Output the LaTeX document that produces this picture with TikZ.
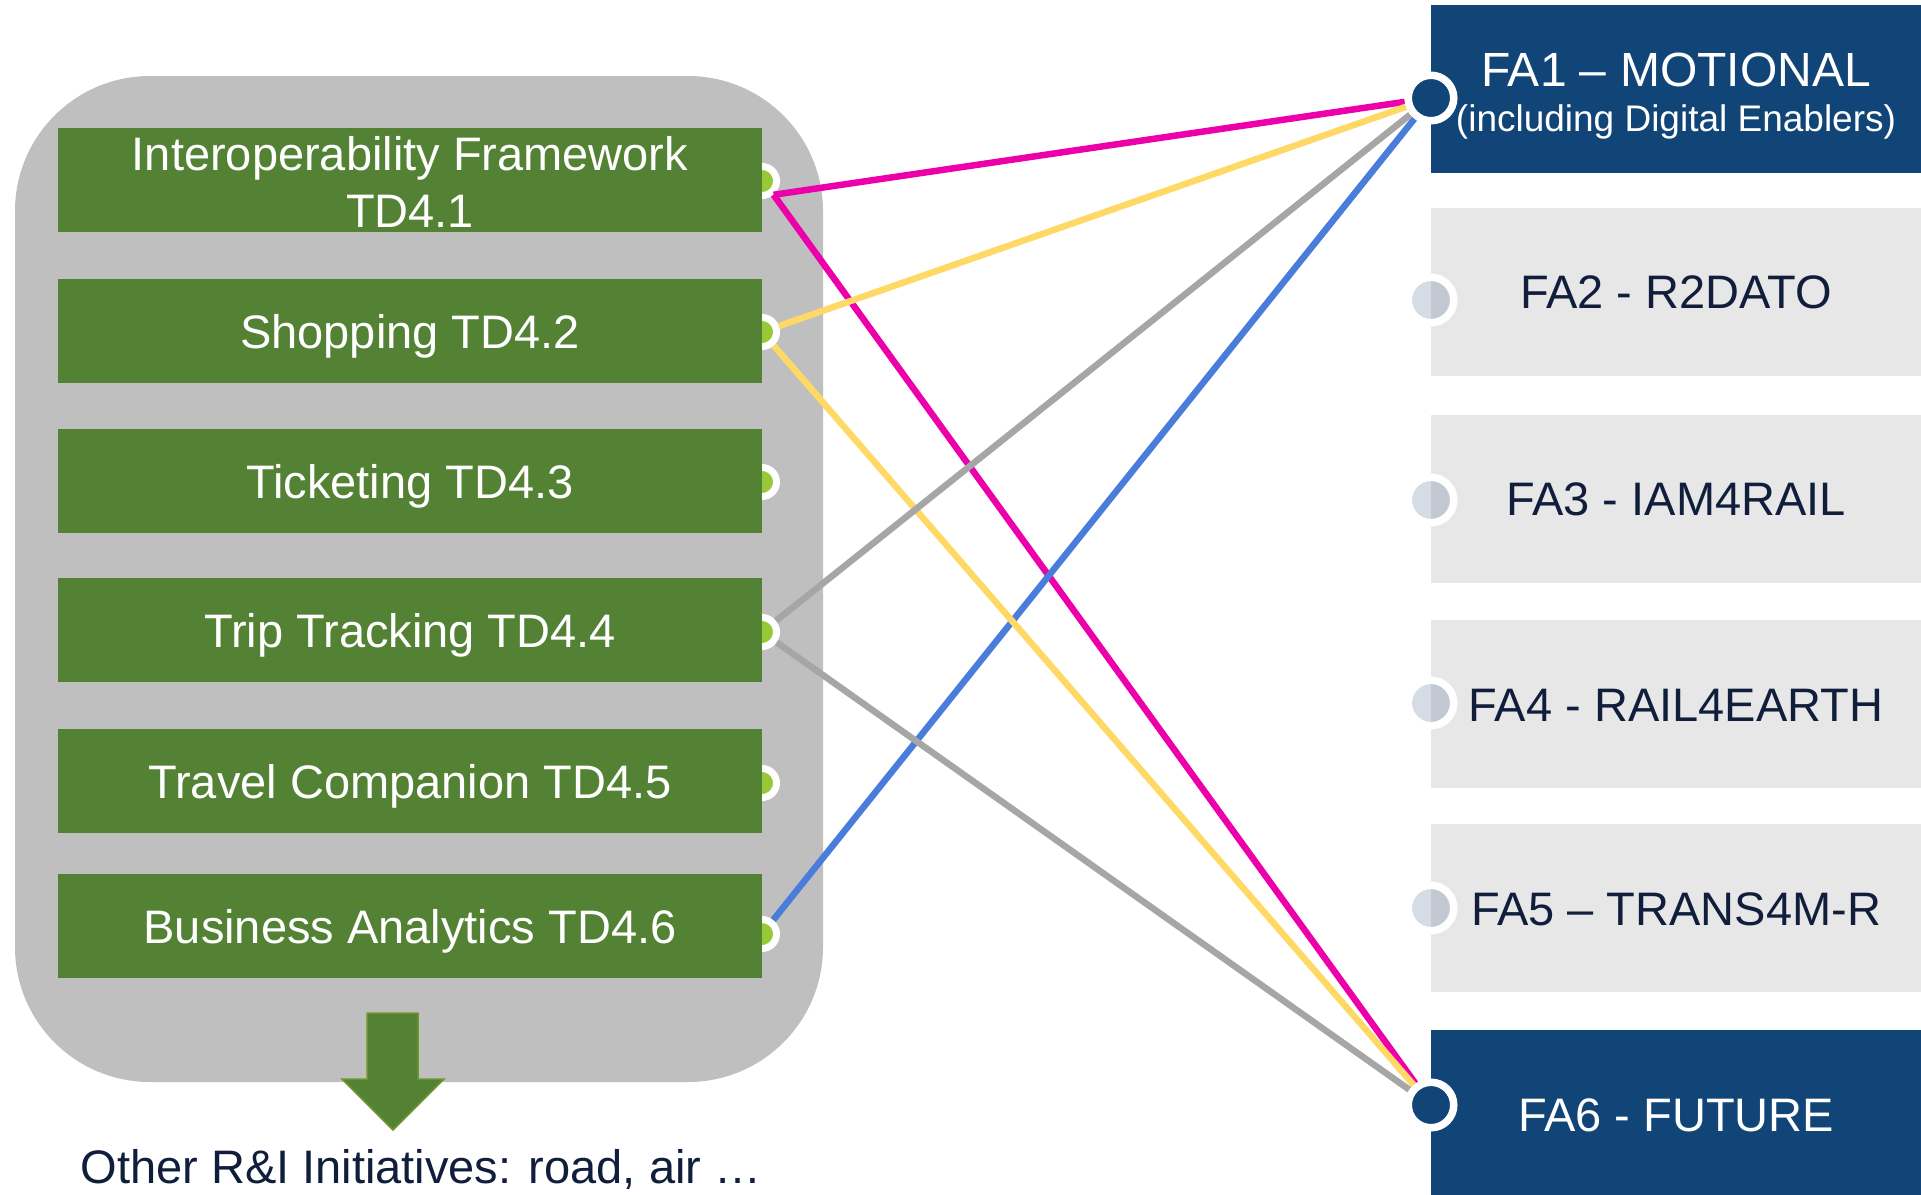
\documentclass[tikz,border=0pt]{standalone}
\usepackage{fontspec}
\setmainfont{Liberation Sans}
\usetikzlibrary{positioning}
\definecolor{tdgreen}{RGB}{84,130,53}
\definecolor{arrowgreen}{RGB}{110,150,45}
\definecolor{dotgreen}{RGB}{150,200,55}
\definecolor{boxgray}{RGB}{191,191,191}
\definecolor{fablue}{RGB}{17,69,119}
\definecolor{falight}{RGB}{231,231,231}
\definecolor{ringfill}{RGB}{87,115,155}
\definecolor{navytext}{RGB}{16,30,60}
\definecolor{linkpink}{RGB}{236,0,170}
\definecolor{linkyellow}{RGB}{255,217,102}
\definecolor{linkgray}{RGB}{166,166,166}
\definecolor{linkblue}{RGB}{74,124,220}
\pgfdeclarelayer{back}
\pgfdeclarelayer{wires}
\pgfsetlayers{back,wires,main}
\tikzset{tdbox/.style = {fill=tdgreen, text=white, minimum width=704pt, minimum height=104pt,
                         inner sep=0pt, outer sep=0pt, font=\fontsize{47}{57}\selectfont,
                         text height=34pt, text depth=0pt},
         tddot/.style = {circle, fill=dotgreen, draw=white, line width=7pt,
                         minimum size=29pt, inner sep=0pt},
         fabox/.style = {fill=falight, text=navytext, minimum width=490pt, minimum height=168pt,
                         inner sep=0pt, outer sep=0pt, font=\fontsize{47}{56}\selectfont,
                         text height=34pt, text depth=0pt},
         faring/.style = {circle, draw=white, line width=7.5pt, minimum size=45.5pt, inner sep=0pt},
         link/.style = {line width=6.5pt}}

\begin{document}
\begin{tikzpicture}[x=1pt, y=-1pt]
      \useasboundingbox (0,0) rectangle (1921,1194);

      \begin{pgfonlayer}{back}
        \fill[boxgray, rounded corners=135pt] (15,76) rectangle (823,1082);
        \node[tddot] (d1) at (762,181) {};
        \node[tddot] (d2) at (762,332) {};
        \node[tddot] (d3) at (762,482) {};
        \node[tddot] (d4) at (762,632) {};
        \node[tddot] (d5) at (762,783) {};
        \node[tddot] (d6) at (762,934) {};
      \end{pgfonlayer}

      \node[tdbox, align=center, text height=94pt] (td1) at (410,180) {Interoperability Framework\\TD4.1};
      \node[tdbox] (td2) at (410,331) {Shopping TD4.2};
      \node[tdbox] (td3) at (410,481) {Ticketing TD4.3};
      \node[tdbox] (td4) at (410,630) {Trip Tracking TD4.4};
      \node[tdbox] (td5) at (410,781) {Travel Companion TD4.5};
      \node[tdbox] (td6) at (410,926) {Business Analytics TD4.6};

      \draw[fill=tdgreen, draw=arrowgreen, line width=1.5pt] (367,1013) -- (418,1013) -- (418,1079)
            -- (444,1079) -- (393,1130) -- (342,1079) -- (367,1079) -- cycle;
      \node[font=\fontsize{47}{56}\selectfont, text=navytext, text height=34pt, text depth=0pt,
            inner sep=0pt] (others) at (421,1166) {Other R\&I Initiatives: road, air …};

      \node[fabox, fill=fablue, text=white, align=center, font=\fontsize{48}{45}\selectfont,
            text height=84pt] (fa1) at (1676,89)
            {FA1 – MOTIONAL\\{\fontsize{37}{45}\selectfont (including Digital Enablers)}};
      \node[fabox] (fa2) at (1676,291.5) {FA2 - R2DATO};
      \node[fabox] (fa3) at (1676,498.5) {FA3 - IAM4RAIL};
      \node[fabox] (fa4) at (1676,704) {FA4 - RAIL4EARTH};
      \node[fabox] (fa5) at (1676,908) {FA5 – TRANS4M-R};
      \node[fabox, fill=fablue, text=white] (fa6) at (1676,1114) {FA6 - FUTURE};

      \node[faring, fill=fablue] (c1) at (1431,98) {};
      \node[faring, fill=ringfill, fill opacity=.25] (c2) at (1431,300) {};
      \node[faring, fill=ringfill, fill opacity=.25] (c3) at (1431,500) {};
      \node[faring, fill=ringfill, fill opacity=.25] (c4) at (1431,703) {};
      \node[faring, fill=ringfill, fill opacity=.25] (c5) at (1431,908) {};
      \node[faring, fill=fablue] (c6) at (1431,1105) {};

      \begin{pgfonlayer}{wires}
        \draw[link, linkpink] (d1.-50) -- (c1);
        \draw[link, linkpink] (d1.-50) -- (c6);
        \draw[link, linkblue] (d6) -- (c1);
        \draw[link, linkyellow] (d2) -- (c1);
        \draw[link, linkyellow] (d2) -- (c6);
        \draw[link, linkgray] (d4) -- (c1);
        \draw[link, linkgray] (d4) -- (c6);
      \end{pgfonlayer}
\end{tikzpicture}
\end{document}
